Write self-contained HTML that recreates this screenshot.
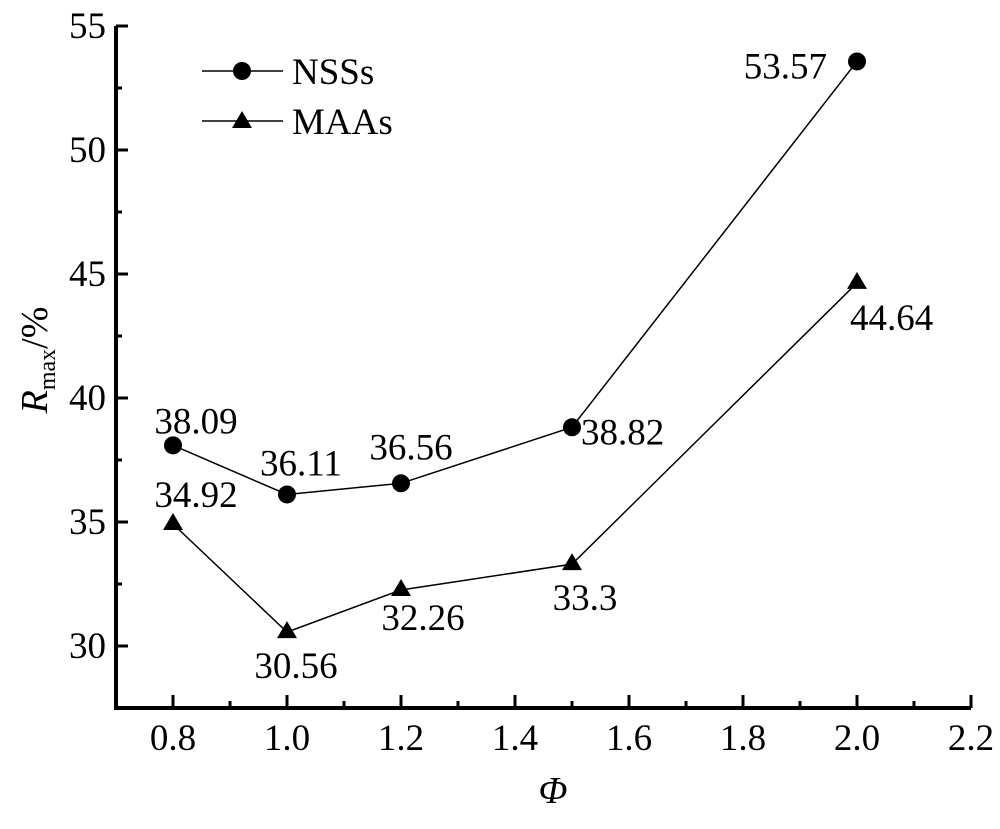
<!DOCTYPE html>
<html><head><meta charset="utf-8"><style>
body{margin:0;background:#fff}
svg text{font-family:"Liberation Serif",serif;fill:#000}
</style></head><body>
<svg id="chart" width="1000" height="824" xmlns="http://www.w3.org/2000/svg">
<g id="axes"></g>
<g id="series"></g>
<g id="legend">
 <line x1="202" y1="71" x2="283" y2="71" stroke="#000" stroke-width="1.5"/>
 <circle cx="242" cy="71" r="9"/>
 <text x="292" y="84" font-size="37">NSSs</text>
 <line x1="202" y1="121" x2="283" y2="121" stroke="#000" stroke-width="1.5"/>
 <polygon points="242,111 252,128 232,128"/>
 <text x="292" y="134" font-size="37">MAAs</text>
</g>
<text transform="translate(47,360) rotate(-90)" text-anchor="middle" font-size="38"><tspan font-style="italic">R</tspan><tspan font-size="24" dy="8">max</tspan><tspan dy="-8">/%</tspan></text>
<text x="553" y="803" text-anchor="middle" font-size="38" font-style="italic">Φ</text>
</svg>
<script>
const xCats=[0.8,1.0,1.2,1.5,2.0];
const nssValues=[38.09,36.11,36.56,38.82,53.57];
const maaValues=[34.92,30.56,32.26,33.3,44.64];
const nssLabels=["38.09","36.11","36.56","38.82","53.57"];
const maaLabels=["34.92","30.56","32.26","33.3","44.64"];
const xTicks=["0.8","1.0","1.2","1.4","1.6","1.8","2.0","2.2"];
const yTicks=["30","35","40","45","50","55"];
const NS="http://www.w3.org/2000/svg";
const xs=v=>116+(v-0.7)*570;
const ys=v=>26+(55-v)*24.8;
const axes=document.getElementById('axes'),ser=document.getElementById('series');
function mk(tag,attrs,parent){const e=document.createElementNS(NS,tag);for(const k in attrs)e.setAttribute(k,attrs[k]);parent.appendChild(e);return e;}
let e;
e=mk('path',{d:`M116,${ys(55)} V708 H${xs(2.2)}`,fill:'none',stroke:'#000','stroke-width':4},axes);


for(let i=0;i<=15;i++){const v=0.7+i*0.1;const x=xs(v);const major=(i%2===1);
 e=mk('line',{x1:x,y1:708,x2:x,y2:major?695:701,stroke:'#000','stroke-width':3},axes);
 
 }
xTicks.forEach(t=>{e=mk('text',{x:xs(+t),y:750,'text-anchor':'middle','font-size':37},axes);e.textContent=t;
 
 });
for(let v=27.5;v<=55.01;v+=2.5){const y=ys(v);const major=(Math.abs(v%5)<0.01);
 if(v<28)continue;
 e=mk('line',{x1:116,y1:y,x2:major?128:122,y2:y,stroke:'#000','stroke-width':3},axes);
 
 }
yTicks.forEach(t=>{e=mk('text',{x:106,y:ys(+t)+12,'text-anchor':'end','font-size':37},axes);e.textContent=t;
 
 });
function line(vals,name){const pts=xCats.map((c,i)=>xs(c)+','+ys(vals[i])).join(' ');
 e=mk('polyline',{points:pts,fill:'none',stroke:'#000','stroke-width':1.5},ser);
 
 }
line(nssValues,'nss-line');line(maaValues,'maa-line');
const nssOff=[[23,-12,'middle'],[14,-19,'middle'],[10,-24,'middle'],[9,17,'start'],[-30,17,'end']];
const maaOff=[[23,-17,'middle'],[9,46,'middle'],[22,40,'middle'],[13,46,'middle'],[-7,47,'start']];
xCats.forEach((c,i)=>{const x=xs(c),y=ys(nssValues[i]);
 e=mk('circle',{cx:x,cy:y,r:9},ser);
 
 
 e=mk('text',{x:x+nssOff[i][0],y:y+nssOff[i][1],'text-anchor':nssOff[i][2],'font-size':37},ser);e.textContent=nssLabels[i];
 
 
 const y2=ys(maaValues[i]);
 e=mk('polygon',{points:`${x},${y2-11} ${x+10},${y2+6} ${x-10},${y2+6}`},ser);
 
 
 e=mk('text',{x:x+maaOff[i][0],y:y2+maaOff[i][1],'text-anchor':maaOff[i][2],'font-size':37},ser);e.textContent=maaLabels[i];
 
 
});
</script>
</body></html>
